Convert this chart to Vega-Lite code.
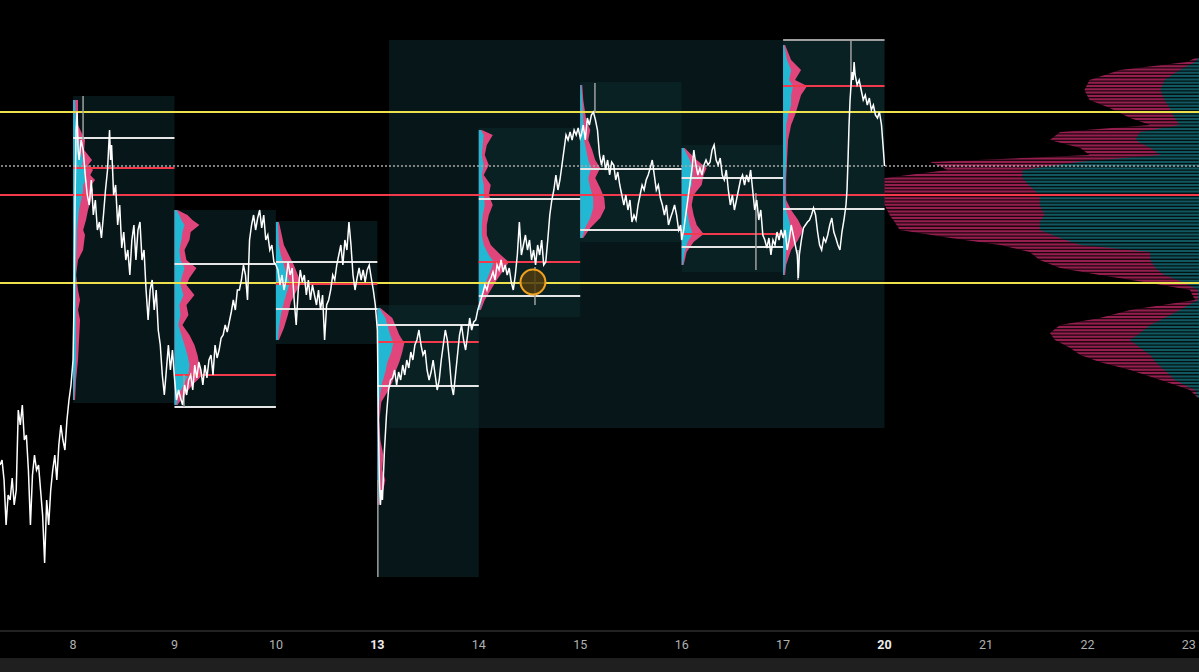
{
"$schema": "https://vega.github.io/schema/vega-lite/v6.json",
"width": 1199, "height": 631, "autosize": "none", "padding": {"left": 0, "top": 0, "right": 0, "bottom": 41},
"background": "#000000",
"config": {"view": {"stroke": null}},
"datasets": {
"price": [
{"t":-0.72,"p":5535},{"t":-0.70,"p":5540},{"t":-0.68,"p":5520},{"t":-0.66,"p":5475},{"t":-0.64,"p":5505},{"t":-0.62,"p":5500},{"t":-0.60,"p":5522},{"t":-0.58,"p":5495},{"t":-0.56,"p":5510},{"t":-0.54,"p":5590},{"t":-0.52,"p":5575},{"t":-0.50,"p":5595},{"t":-0.48,"p":5560},{"t":-0.46,"p":5565},{"t":-0.44,"p":5530},{"t":-0.42,"p":5475},{"t":-0.40,"p":5525},{"t":-0.38,"p":5545},{"t":-0.36,"p":5530},{"t":-0.34,"p":5535},{"t":-0.32,"p":5510},{"t":-0.30,"p":5485},{"t":-0.28,"p":5437},{"t":-0.26,"p":5500},{"t":-0.24,"p":5475},{"t":-0.22,"p":5510},{"t":-0.20,"p":5530},{"t":-0.18,"p":5545},{"t":-0.16,"p":5520},{"t":-0.14,"p":5555},{"t":-0.12,"p":5575},{"t":-0.10,"p":5560},{"t":-0.08,"p":5550},{"t":-0.06,"p":5580},{"t":-0.04,"p":5600},{"t":-0.02,"p":5615},
{"t":0.00,"p":5640},{"t":0.01,"p":5700},{"t":0.02,"p":5800},{"t":0.03,"p":5870},{"t":0.04,"p":5888},{"t":0.05,"p":5850},{"t":0.06,"p":5840},{"t":0.08,"p":5860},{"t":0.10,"p":5850},{"t":0.12,"p":5825},{"t":0.14,"p":5805},{"t":0.16,"p":5795},{"t":0.18,"p":5820},{"t":0.20,"p":5785},{"t":0.22,"p":5800},{"t":0.24,"p":5770},{"t":0.26,"p":5778},{"t":0.28,"p":5762},{"t":0.30,"p":5785},{"t":0.32,"p":5810},{"t":0.34,"p":5830},{"t":0.36,"p":5870},{"t":0.37,"p":5840},{"t":0.38,"p":5855},{"t":0.40,"p":5805},{"t":0.42,"p":5815},{"t":0.44,"p":5775},{"t":0.46,"p":5795},{"t":0.48,"p":5752},{"t":0.50,"p":5768},{"t":0.52,"p":5740},{"t":0.54,"p":5750},{"t":0.56,"p":5725},{"t":0.58,"p":5760},{"t":0.60,"p":5775},{"t":0.62,"p":5740},{"t":0.64,"p":5770},{"t":0.66,"p":5778},{"t":0.68,"p":5740},{"t":0.70,"p":5750},{"t":0.72,"p":5710},{"t":0.74,"p":5680},{"t":0.76,"p":5710},{"t":0.78,"p":5720},{"t":0.80,"p":5690},{"t":0.82,"p":5710},{"t":0.84,"p":5670},{"t":0.86,"p":5655},{"t":0.88,"p":5625},{"t":0.90,"p":5605},{"t":0.92,"p":5630},{"t":0.94,"p":5655},{"t":0.96,"p":5630},{"t":0.98,"p":5650},{"t":1.00,"p":5622},
{"t":1.02,"p":5600},{"t":1.04,"p":5610},{"t":1.06,"p":5602},{"t":1.08,"p":5595},{"t":1.10,"p":5615},{"t":1.12,"p":5605},{"t":1.14,"p":5620},{"t":1.16,"p":5625},{"t":1.18,"p":5610},{"t":1.20,"p":5635},{"t":1.22,"p":5622},{"t":1.24,"p":5638},{"t":1.26,"p":5630},{"t":1.28,"p":5615},{"t":1.30,"p":5635},{"t":1.32,"p":5622},{"t":1.34,"p":5640},{"t":1.36,"p":5645},{"t":1.38,"p":5625},{"t":1.40,"p":5655},{"t":1.42,"p":5642},{"t":1.44,"p":5650},{"t":1.46,"p":5662},{"t":1.48,"p":5665},{"t":1.50,"p":5675},{"t":1.52,"p":5668},{"t":1.54,"p":5678},{"t":1.56,"p":5688},{"t":1.58,"p":5700},{"t":1.60,"p":5690},{"t":1.62,"p":5710},{"t":1.64,"p":5710},{"t":1.66,"p":5720},{"t":1.68,"p":5735},{"t":1.70,"p":5725},{"t":1.72,"p":5700},{"t":1.74,"p":5760},{"t":1.76,"p":5775},{"t":1.78,"p":5785},{"t":1.80,"p":5770},{"t":1.82,"p":5782},{"t":1.84,"p":5790},{"t":1.86,"p":5772},{"t":1.88,"p":5785},{"t":1.90,"p":5760},{"t":1.92,"p":5765},{"t":1.94,"p":5750},{"t":1.96,"p":5755},{"t":1.98,"p":5738},{"t":2.00,"p":5735},
{"t":2.02,"p":5730},{"t":2.04,"p":5715},{"t":2.06,"p":5725},{"t":2.08,"p":5710},{"t":2.10,"p":5720},{"t":2.12,"p":5738},{"t":2.14,"p":5725},{"t":2.16,"p":5732},{"t":2.18,"p":5700},{"t":2.20,"p":5675},{"t":2.22,"p":5710},{"t":2.24,"p":5730},{"t":2.26,"p":5718},{"t":2.28,"p":5725},{"t":2.30,"p":5705},{"t":2.32,"p":5720},{"t":2.34,"p":5700},{"t":2.36,"p":5715},{"t":2.38,"p":5705},{"t":2.40,"p":5695},{"t":2.42,"p":5710},{"t":2.44,"p":5690},{"t":2.46,"p":5705},{"t":2.48,"p":5660},{"t":2.50,"p":5695},{"t":2.52,"p":5700},{"t":2.54,"p":5710},{"t":2.56,"p":5725},{"t":2.58,"p":5720},{"t":2.60,"p":5735},{"t":2.62,"p":5745},{"t":2.64,"p":5755},{"t":2.66,"p":5735},{"t":2.68,"p":5760},{"t":2.70,"p":5750},{"t":2.72,"p":5778},{"t":2.74,"p":5755},{"t":2.76,"p":5725},{"t":2.78,"p":5710},{"t":2.80,"p":5722},{"t":2.82,"p":5732},{"t":2.84,"p":5720},{"t":2.86,"p":5730},{"t":2.88,"p":5718},{"t":2.90,"p":5730},{"t":2.92,"p":5735},{"t":2.94,"p":5722},{"t":2.96,"p":5710},{"t":2.98,"p":5695},{"t":3.00,"p":5670},
{"t":3.01,"p":5580},{"t":3.02,"p":5520},{"t":3.03,"p":5495},{"t":3.04,"p":5510},{"t":3.05,"p":5500},{"t":3.07,"p":5550},{"t":3.09,"p":5585},{"t":3.11,"p":5610},{"t":3.13,"p":5620},{"t":3.15,"p":5622},{"t":3.17,"p":5630},{"t":3.19,"p":5615},{"t":3.21,"p":5628},{"t":3.23,"p":5620},{"t":3.25,"p":5635},{"t":3.27,"p":5625},{"t":3.29,"p":5640},{"t":3.31,"p":5632},{"t":3.33,"p":5648},{"t":3.35,"p":5640},{"t":3.37,"p":5655},{"t":3.39,"p":5660},{"t":3.41,"p":5670},{"t":3.43,"p":5655},{"t":3.45,"p":5645},{"t":3.47,"p":5650},{"t":3.49,"p":5630},{"t":3.51,"p":5620},{"t":3.53,"p":5628},{"t":3.55,"p":5640},{"t":3.57,"p":5625},{"t":3.59,"p":5610},{"t":3.61,"p":5620},{"t":3.63,"p":5640},{"t":3.65,"p":5655},{"t":3.67,"p":5670},{"t":3.69,"p":5660},{"t":3.71,"p":5640},{"t":3.73,"p":5615},{"t":3.75,"p":5605},{"t":3.77,"p":5625},{"t":3.79,"p":5645},{"t":3.81,"p":5665},{"t":3.83,"p":5675},{"t":3.85,"p":5660},{"t":3.87,"p":5650},{"t":3.89,"p":5665},{"t":3.91,"p":5682},{"t":3.93,"p":5670},{"t":3.95,"p":5678},{"t":3.97,"p":5680},{"t":3.99,"p":5690},
{"t":4.02,"p":5700},{"t":4.04,"p":5707},{"t":4.06,"p":5715},{"t":4.08,"p":5710},{"t":4.10,"p":5718},{"t":4.12,"p":5722},{"t":4.14,"p":5728},{"t":4.16,"p":5720},{"t":4.18,"p":5735},{"t":4.20,"p":5730},{"t":4.22,"p":5740},{"t":4.24,"p":5728},{"t":4.26,"p":5735},{"t":4.28,"p":5725},{"t":4.30,"p":5732},{"t":4.32,"p":5718},{"t":4.34,"p":5710},{"t":4.36,"p":5725},{"t":4.38,"p":5745},{"t":4.40,"p":5778},{"t":4.42,"p":5745},{"t":4.44,"p":5755},{"t":4.46,"p":5765},{"t":4.48,"p":5750},{"t":4.50,"p":5760},{"t":4.52,"p":5740},{"t":4.54,"p":5750},{"t":4.56,"p":5735},{"t":4.58,"p":5755},{"t":4.60,"p":5745},{"t":4.62,"p":5760},{"t":4.64,"p":5735},{"t":4.66,"p":5738},{"t":4.68,"p":5760},{"t":4.70,"p":5785},{"t":4.72,"p":5800},{"t":4.74,"p":5810},{"t":4.76,"p":5825},{"t":4.78,"p":5810},{"t":4.80,"p":5820},{"t":4.82,"p":5835},{"t":4.84,"p":5850},{"t":4.86,"p":5865},{"t":4.88,"p":5860},{"t":4.90,"p":5868},{"t":4.92,"p":5860},{"t":4.94,"p":5870},{"t":4.96,"p":5865},{"t":4.98,"p":5872},{"t":5.00,"p":5862},
{"t":5.01,"p":5865},{"t":5.03,"p":5875},{"t":5.05,"p":5860},{"t":5.07,"p":5882},{"t":5.09,"p":5875},{"t":5.11,"p":5885},{"t":5.13,"p":5888},{"t":5.15,"p":5880},{"t":5.17,"p":5870},{"t":5.19,"p":5845},{"t":5.21,"p":5835},{"t":5.23,"p":5845},{"t":5.25,"p":5830},{"t":5.27,"p":5840},{"t":5.29,"p":5825},{"t":5.31,"p":5838},{"t":5.33,"p":5835},{"t":5.35,"p":5820},{"t":5.37,"p":5828},{"t":5.39,"p":5815},{"t":5.41,"p":5805},{"t":5.43,"p":5795},{"t":5.45,"p":5805},{"t":5.47,"p":5790},{"t":5.49,"p":5800},{"t":5.51,"p":5778},{"t":5.53,"p":5785},{"t":5.55,"p":5780},{"t":5.57,"p":5795},{"t":5.59,"p":5805},{"t":5.61,"p":5815},{"t":5.63,"p":5810},{"t":5.65,"p":5820},{"t":5.67,"p":5825},{"t":5.69,"p":5832},{"t":5.71,"p":5840},{"t":5.73,"p":5825},{"t":5.75,"p":5810},{"t":5.77,"p":5815},{"t":5.79,"p":5802},{"t":5.81,"p":5795},{"t":5.83,"p":5785},{"t":5.85,"p":5795},{"t":5.87,"p":5775},{"t":5.89,"p":5782},{"t":5.91,"p":5788},{"t":5.93,"p":5795},{"t":5.95,"p":5785},{"t":5.97,"p":5770},{"t":5.99,"p":5775},{"t":6.00,"p":5760},
{"t":6.02,"p":5770},{"t":6.04,"p":5785},{"t":6.06,"p":5800},{"t":6.08,"p":5815},{"t":6.10,"p":5830},{"t":6.12,"p":5850},{"t":6.14,"p":5835},{"t":6.16,"p":5825},{"t":6.18,"p":5832},{"t":6.20,"p":5825},{"t":6.22,"p":5835},{"t":6.24,"p":5840},{"t":6.26,"p":5835},{"t":6.28,"p":5838},{"t":6.30,"p":5850},{"t":6.32,"p":5855},{"t":6.34,"p":5840},{"t":6.36,"p":5835},{"t":6.38,"p":5842},{"t":6.40,"p":5825},{"t":6.42,"p":5820},{"t":6.44,"p":5830},{"t":6.46,"p":5810},{"t":6.48,"p":5795},{"t":6.50,"p":5805},{"t":6.52,"p":5790},{"t":6.54,"p":5800},{"t":6.56,"p":5810},{"t":6.58,"p":5820},{"t":6.60,"p":5825},{"t":6.62,"p":5815},{"t":6.64,"p":5825},{"t":6.66,"p":5818},{"t":6.68,"p":5830},{"t":6.70,"p":5810},{"t":6.72,"p":5790},{"t":6.74,"p":5800},{"t":6.76,"p":5780},{"t":6.78,"p":5790},{"t":6.80,"p":5765},{"t":6.82,"p":5760},{"t":6.84,"p":5752},{"t":6.86,"p":5762},{"t":6.88,"p":5745},{"t":6.90,"p":5760},{"t":6.92,"p":5755},{"t":6.94,"p":5768},{"t":6.96,"p":5760},{"t":6.98,"p":5770},{"t":7.00,"p":5762},
{"t":7.02,"p":5770},{"t":7.04,"p":5750},{"t":7.06,"p":5760},{"t":7.08,"p":5775},{"t":7.10,"p":5765},{"t":7.12,"p":5755},{"t":7.14,"p":5745},{"t":7.15,"p":5722},{"t":7.16,"p":5745},{"t":7.18,"p":5760},{"t":7.20,"p":5772},{"t":7.22,"p":5775},{"t":7.24,"p":5778},{"t":7.26,"p":5780},{"t":7.28,"p":5785},{"t":7.30,"p":5792},{"t":7.32,"p":5785},{"t":7.34,"p":5768},{"t":7.36,"p":5755},{"t":7.38,"p":5750},{"t":7.40,"p":5762},{"t":7.42,"p":5758},{"t":7.44,"p":5765},{"t":7.46,"p":5775},{"t":7.48,"p":5782},{"t":7.50,"p":5768},{"t":7.52,"p":5762},{"t":7.54,"p":5755},{"t":7.56,"p":5750},{"t":7.58,"p":5768},{"t":7.60,"p":5780},{"t":7.62,"p":5795},{"t":7.63,"p":5810},{"t":7.64,"p":5840},{"t":7.65,"p":5875},{"t":7.66,"p":5900},{"t":7.67,"p":5915},{"t":7.68,"p":5928},{"t":7.69,"p":5920},{"t":7.70,"p":5938},{"t":7.71,"p":5925},{"t":7.73,"p":5915},{"t":7.75,"p":5920},{"t":7.77,"p":5910},{"t":7.79,"p":5900},{"t":7.81,"p":5905},{"t":7.83,"p":5895},{"t":7.85,"p":5902},{"t":7.87,"p":5890},{"t":7.89,"p":5895},{"t":7.91,"p":5885},{"t":7.93,"p":5882},{"t":7.95,"p":5888},{"t":7.97,"p":5875},{"t":7.985,"p":5855},{"t":8.00,"p":5834}
],
"sessions": [
{"s":0,"e":1,"top":5904,"bot":5597},{"s":1,"e":2,"top":5790,"bot":5593},{"s":2,"e":3,"top":5779,"bot":5656},{"s":3,"e":4,"top":5695,"bot":5423},{"s":4,"e":5,"top":5872,"bot":5683},{"s":5,"e":6,"top":5918,"bot":5758},{"s":6,"e":7,"top":5855,"bot":5728},{"s":7,"e":8,"top":5960,"bot":5720}
],
"week": [{"s":3.115,"e":8.0,"top":5960,"bot":5572}],
"profiles": [
{"s":0,"p":5900,"tp":0.049,"tc":0.020},{"s":0,"p":5875,"tp":0.049,"tc":0.030},{"s":0,"p":5860,"tp":0.118,"tc":0.059},{"s":0,"p":5850,"tp":0.110,"tc":0.069},{"s":0,"p":5840,"tp":0.187,"tc":0.099},{"s":0,"p":5835,"tp":0.150,"tc":0.089},{"s":0,"p":5830,"tp":0.197,"tc":0.128},{"s":0,"p":5825,"tp":0.170,"tc":0.110},{"s":0,"p":5820,"tp":0.217,"tc":0.128},{"s":0,"p":5815,"tp":0.180,"tc":0.100},{"s":0,"p":5810,"tp":0.197,"tc":0.099},{"s":0,"p":5800,"tp":0.177,"tc":0.079},{"s":0,"p":5790,"tp":0.148,"tc":0.059},{"s":0,"p":5780,"tp":0.128,"tc":0.049},{"s":0,"p":5770,"tp":0.100,"tc":0.040},{"s":0,"p":5765,"tp":0.118,"tc":0.040},{"s":0,"p":5750,"tp":0.099,"tc":0.035},{"s":0,"p":5740,"tp":0.049,"tc":0.030},{"s":0,"p":5725,"tp":0.030,"tc":0.030},{"s":0,"p":5710,"tp":0.049,"tc":0.030},{"s":0,"p":5700,"tp":0.069,"tc":0.030},{"s":0,"p":5690,"tp":0.050,"tc":0.030},{"s":0,"p":5680,"tp":0.069,"tc":0.030},{"s":0,"p":5660,"tp":0.059,"tc":0.030},{"s":0,"p":5640,"tp":0.049,"tc":0.030},{"s":0,"p":5620,"tp":0.030,"tc":0.020},{"s":0,"p":5600,"tp":0.020,"tc":0.010},
{"s":1,"p":5790,"tp":1.030,"tc":1.020},{"s":1,"p":5785,"tp":1.128,"tc":1.049},{"s":1,"p":5780,"tp":1.177,"tc":1.069},{"s":1,"p":5775,"tp":1.246,"tc":1.099},{"s":1,"p":5768,"tp":1.160,"tc":1.079},{"s":1,"p":5760,"tp":1.148,"tc":1.069},{"s":1,"p":5750,"tp":1.099,"tc":1.049},{"s":1,"p":5740,"tp":1.118,"tc":1.059},{"s":1,"p":5732,"tp":1.217,"tc":1.099},{"s":1,"p":5722,"tp":1.148,"tc":1.069},{"s":1,"p":5715,"tp":1.118,"tc":1.059},{"s":1,"p":5705,"tp":1.197,"tc":1.089},{"s":1,"p":5695,"tp":1.118,"tc":1.049},{"s":1,"p":5685,"tp":1.138,"tc":1.059},{"s":1,"p":5675,"tp":1.079,"tc":1.039},{"s":1,"p":5665,"tp":1.148,"tc":1.069},{"s":1,"p":5655,"tp":1.197,"tc":1.099},{"s":1,"p":5645,"tp":1.227,"tc":1.128},{"s":1,"p":5635,"tp":1.246,"tc":1.148},{"s":1,"p":5625,"tp":1.276,"tc":1.138},{"s":1,"p":5615,"tp":1.177,"tc":1.089},{"s":1,"p":5605,"tp":1.099,"tc":1.039},{"s":1,"p":5595,"tp":1.030,"tc":1.020},
{"s":2,"p":5778,"tp":2.030,"tc":2.020},{"s":2,"p":5755,"tp":2.079,"tc":2.030},{"s":2,"p":5745,"tp":2.128,"tc":2.049},{"s":2,"p":5735,"tp":2.177,"tc":2.079},{"s":2,"p":5725,"tp":2.217,"tc":2.108},{"s":2,"p":5717,"tp":2.246,"tc":2.138},{"s":2,"p":5708,"tp":2.197,"tc":2.108},{"s":2,"p":5698,"tp":2.148,"tc":2.079},{"s":2,"p":5685,"tp":2.118,"tc":2.049},{"s":2,"p":5672,"tp":2.079,"tc":2.030},{"s":2,"p":5660,"tp":2.030,"tc":2.020},
{"s":3,"p":5692,"tp":3.030,"tc":3.020},{"s":3,"p":5682,"tp":3.148,"tc":3.079},{"s":3,"p":5675,"tp":3.177,"tc":3.099},{"s":3,"p":5665,"tp":3.217,"tc":3.128},{"s":3,"p":5657,"tp":3.266,"tc":3.158},{"s":3,"p":5648,"tp":3.246,"tc":3.138},{"s":3,"p":5638,"tp":3.217,"tc":3.099},{"s":3,"p":5628,"tp":3.177,"tc":3.079},{"s":3,"p":5618,"tp":3.148,"tc":3.049},{"s":3,"p":5608,"tp":3.099,"tc":3.030},{"s":3,"p":5598,"tp":3.039,"tc":3.020},{"s":3,"p":5580,"tp":3.020,"tc":3.010},{"s":3,"p":5560,"tp":3.030,"tc":3.020},{"s":3,"p":5545,"tp":3.059,"tc":3.020},{"s":3,"p":5530,"tp":3.049,"tc":3.020},{"s":3,"p":5520,"tp":3.079,"tc":3.030},{"s":3,"p":5505,"tp":3.049,"tc":3.020},{"s":3,"p":5495,"tp":3.020,"tc":3.010},
{"s":4,"p":5870,"tp":4.030,"tc":4.020},{"s":4,"p":5865,"tp":4.138,"tc":4.049},{"s":4,"p":5855,"tp":4.079,"tc":4.039},{"s":4,"p":5845,"tp":4.059,"tc":4.030},{"s":4,"p":5835,"tp":4.099,"tc":4.049},{"s":4,"p":5825,"tp":4.049,"tc":4.030},{"s":4,"p":5815,"tp":4.118,"tc":4.049},{"s":4,"p":5805,"tp":4.099,"tc":4.049},{"s":4,"p":5795,"tp":4.138,"tc":4.059},{"s":4,"p":5785,"tp":4.099,"tc":4.039},{"s":4,"p":5775,"tp":4.079,"tc":4.030},{"s":4,"p":5765,"tp":4.079,"tc":4.030},{"s":4,"p":5755,"tp":4.118,"tc":4.049},{"s":4,"p":5745,"tp":4.217,"tc":4.099},{"s":4,"p":5738,"tp":4.296,"tc":4.148},{"s":4,"p":5730,"tp":4.246,"tc":4.118},{"s":4,"p":5720,"tp":4.177,"tc":4.079},{"s":4,"p":5710,"tp":4.118,"tc":4.049},{"s":4,"p":5700,"tp":4.059,"tc":4.030},{"s":4,"p":5690,"tp":4.020,"tc":4.010},
{"s":5,"p":5915,"tp":5.020,"tc":5.010},{"s":5,"p":5900,"tp":5.030,"tc":5.020},{"s":5,"p":5880,"tp":5.059,"tc":5.030},{"s":5,"p":5870,"tp":5.099,"tc":5.039},{"s":5,"p":5860,"tp":5.079,"tc":5.039},{"s":5,"p":5850,"tp":5.118,"tc":5.059},{"s":5,"p":5840,"tp":5.148,"tc":5.079},{"s":5,"p":5832,"tp":5.197,"tc":5.108},{"s":5,"p":5822,"tp":5.148,"tc":5.079},{"s":5,"p":5812,"tp":5.197,"tc":5.099},{"s":5,"p":5802,"tp":5.237,"tc":5.128},{"s":5,"p":5792,"tp":5.246,"tc":5.128},{"s":5,"p":5782,"tp":5.197,"tc":5.099},{"s":5,"p":5772,"tp":5.099,"tc":5.049},{"s":5,"p":5762,"tp":5.030,"tc":5.020},
{"s":6,"p":5852,"tp":6.030,"tc":6.020},{"s":6,"p":5840,"tp":6.148,"tc":6.079},{"s":6,"p":5832,"tp":6.246,"tc":6.108},{"s":6,"p":5825,"tp":6.217,"tc":6.108},{"s":6,"p":5815,"tp":6.197,"tc":6.099},{"s":6,"p":5805,"tp":6.118,"tc":6.059},{"s":6,"p":5795,"tp":6.099,"tc":6.049},{"s":6,"p":5785,"tp":6.118,"tc":6.059},{"s":6,"p":5775,"tp":6.148,"tc":6.079},{"s":6,"p":5766,"tp":6.217,"tc":6.108},{"s":6,"p":5758,"tp":6.118,"tc":6.059},{"s":6,"p":5748,"tp":6.049,"tc":6.030},{"s":6,"p":5735,"tp":6.020,"tc":6.010},
{"s":7,"p":5955,"tp":7.020,"tc":7.010},{"s":7,"p":5940,"tp":7.079,"tc":7.039},{"s":7,"p":5930,"tp":7.177,"tc":7.079},{"s":7,"p":5920,"tp":7.118,"tc":7.059},{"s":7,"p":5914,"tp":7.237,"tc":7.099},{"s":7,"p":5905,"tp":7.177,"tc":7.079},{"s":7,"p":5895,"tp":7.148,"tc":7.079},{"s":7,"p":5885,"tp":7.118,"tc":7.049},{"s":7,"p":5875,"tp":7.079,"tc":7.030},{"s":7,"p":5860,"tp":7.049,"tc":7.030},{"s":7,"p":5840,"tp":7.039,"tc":7.030},{"s":7,"p":5820,"tp":7.030,"tc":7.020},{"s":7,"p":5800,"tp":7.030,"tc":7.020},{"s":7,"p":5790,"tp":7.079,"tc":7.030},{"s":7,"p":5780,"tp":7.148,"tc":7.059},{"s":7,"p":5770,"tp":7.197,"tc":7.079},{"s":7,"p":5760,"tp":7.148,"tc":7.049},{"s":7,"p":5750,"tp":7.079,"tc":7.030},{"s":7,"p":5735,"tp":7.030,"tc":7.020},{"s":7,"p":5725,"tp":7.020,"tc":7.010}
],
"composite": [
{"p":5942,"tp":11.06,"tc":11.09},{"p":5938,"tp":10.98,"tc":11.06},{"p":5930,"tp":10.32,"tc":10.91},{"p":5920,"tp":10.02,"tc":10.76},{"p":5910,"tp":9.97,"tc":10.72},{"p":5900,"tp":10.02,"tc":10.76},{"p":5892,"tp":10.22,"tc":10.81},{"p":5882,"tp":10.42,"tc":10.86},{"p":5875,"tp":10.62,"tc":10.91},{"p":5868,"tp":9.73,"tc":10.52},{"p":5860,"tp":9.63,"tc":10.47},{"p":5852,"tp":9.93,"tc":10.62},{"p":5845,"tp":10.02,"tc":10.72},{"p":5838,"tp":8.45,"tc":9.90},{"p":5830,"tp":8.62,"tc":9.36},{"p":5822,"tp":8.00,"tc":9.36},{"p":5814,"tp":8.00,"tc":9.43},{"p":5805,"tp":8.00,"tc":9.53},{"p":5795,"tp":8.00,"tc":9.53},{"p":5785,"tp":8.05,"tc":9.58},{"p":5778,"tp":8.10,"tc":9.53},{"p":5770,"tp":8.15,"tc":9.53},{"p":5762,"tp":8.65,"tc":9.73},{"p":5755,"tp":9.14,"tc":9.93},{"p":5748,"tp":9.43,"tc":10.62},{"p":5740,"tp":9.53,"tc":10.62},{"p":5732,"tp":9.73,"tc":10.67},{"p":5725,"tp":10.12,"tc":10.76},{"p":5717,"tp":10.62,"tc":10.96},{"p":5710,"tp":11.01,"tc":11.09},{"p":5700,"tp":11.06,"tc":11.09},{"p":5690,"tp":10.42,"tc":10.91},{"p":5682,"tp":10.12,"tc":10.76},{"p":5675,"tp":9.73,"tc":10.62},{"p":5667,"tp":9.63,"tc":10.52},{"p":5660,"tp":9.68,"tc":10.42},{"p":5652,"tp":9.83,"tc":10.52},{"p":5645,"tp":9.93,"tc":10.62},{"p":5638,"tp":10.12,"tc":10.67},{"p":5630,"tp":10.42,"tc":10.76},{"p":5620,"tp":10.72,"tc":10.86},{"p":5610,"tp":11.01,"tc":11.06},{"p":5602,"tp":11.09,"tc":11.09}
],
"stripes": [{"t":9.55,"p1":5946,"p2":5598}],
"va": [
{"s":0,"e":1,"p":5862},{"s":1,"e":2,"p":5736},{"s":1,"e":2,"p":5593},{"s":2,"e":3,"p":5738},{"s":2,"e":3,"p":5691},{"s":3,"e":4,"p":5675},{"s":3,"e":4,"p":5614},{"s":4,"e":5,"p":5801},{"s":4,"e":5,"p":5704},{"s":5,"e":6,"p":5831},{"s":5,"e":6,"p":5770},{"s":6,"e":7,"p":5822},{"s":6,"e":7,"p":5753},{"s":7,"e":8,"p":5791}
],
"poc": [
{"s":0,"e":1,"p":5832},{"s":1,"e":2,"p":5625},{"s":2,"e":3,"p":5716},{"s":3,"e":4,"p":5658},{"s":4,"e":5,"p":5738},{"s":6,"e":7,"p":5766},{"s":7,"e":8,"p":5914}
],
"hi": [{"s":7,"e":8,"p":5960}],
"wicks": [
{"t":0.099,"p1":5904,"p2":5860},{"t":1.094,"p1":5625,"p2":5593},{"t":3.005,"p1":5520,"p2":5423},{"t":4.554,"p1":5733,"p2":5695},{"t":5.145,"p1":5917,"p2":5887},{"t":6.732,"p1":5807,"p2":5730},{"t":7.146,"p1":5750,"p2":5720},{"t":7.669,"p1":5960,"p2":5915}
],
"levels": [{"p":5888},{"p":5717}],
"red": [{"p":5805}],
"last": [{"p":5834}],
"marker": [{"t":4.534,"p":5718}],
"panel": [{"t1":-0.72,"t2":11.1,"p1":5328,"p2":5342,"base":5369}],
"dayLabels": [
{"t":0,"label":"8","p":5355},{"t":1,"label":"9","p":5355},{"t":2,"label":"10","p":5355},{"t":4,"label":"14","p":5355},{"t":5,"label":"15","p":5355},{"t":6,"label":"16","p":5355},{"t":7,"label":"17","p":5355},{"t":9,"label":"21","p":5355},{"t":10,"label":"22","p":5355},{"t":11,"label":"23","p":5355}
],
"weekLabels": [
{"t":3,"label":"13","p":5355},{"t":8,"label":"20","p":5355}
]
},
"layer": [
{"data": {"name": "panel"},
 "mark": {"type": "rect", "color": "#1f1f1f", "clip": false},
 "encoding": {
  "x": {"field": "t1", "type": "quantitative", "scale": {"domain": [-0.72, 11.1], "nice": false, "zero": false}, "axis": null},
  "x2": {"field": "t2"},
  "y": {"field": "p1", "type": "quantitative", "scale": {"domain": [5369, 6000], "nice": false, "zero": false}, "axis": null},
  "y2": {"field": "p2"}}},
{"data": {"name": "panel"},
 "mark": {"type": "rule", "color": "#2e2e2e", "strokeWidth": 1.5},
 "encoding": {"y": {"field": "base", "type": "quantitative", "axis": null}}},
{"data": {"name": "dayLabels"},
 "mark": {"type": "text", "color": "#b0b0b0", "font": "Roboto", "fontSize": 12.5, "baseline": "middle", "align": "center"},
 "encoding": {
  "x": {"field": "t", "type": "quantitative", "axis": null},
  "y": {"field": "p", "type": "quantitative", "axis": null},
  "text": {"field": "label"}}},
{"data": {"name": "weekLabels"},
 "mark": {"type": "text", "color": "#eeeeee", "font": "Roboto", "fontSize": 12.5, "fontWeight": "bold", "baseline": "middle", "align": "center"},
 "encoding": {
  "x": {"field": "t", "type": "quantitative", "axis": null},
  "y": {"field": "p", "type": "quantitative", "axis": null},
  "text": {"field": "label"}}},
{"data": {"name": "week"},
 "mark": {"type": "rect", "color": "#0e2b2f", "opacity": 0.5},
 "encoding": {
  "x": {"field": "s", "type": "quantitative", "axis": null},
  "x2": {"field": "e"},
  "y": {"field": "top", "type": "quantitative", "axis": null},
  "y2": {"field": "bot"}}},
{"data": {"name": "sessions"},
 "mark": {"type": "rect", "color": "#0e2b2f", "opacity": 0.5},
 "encoding": {
  "x": {"field": "s", "type": "quantitative", "axis": null},
  "x2": {"field": "e"},
  "y": {"field": "top", "type": "quantitative", "axis": null},
  "y2": {"field": "bot"}}},
{"data": {"name": "profiles"},
 "mark": {"type": "area", "orient": "horizontal", "color": "#e0467c"},
 "encoding": {
  "y": {"field": "p", "type": "quantitative", "axis": null},
  "x": {"field": "tp", "type": "quantitative", "stack": null, "axis": null},
  "x2": {"field": "s"},
  "detail": {"field": "s"}}},
{"data": {"name": "profiles"},
 "mark": {"type": "area", "orient": "horizontal", "color": "#22b8d3"},
 "encoding": {
  "y": {"field": "p", "type": "quantitative", "axis": null},
  "x": {"field": "tc", "type": "quantitative", "stack": null, "axis": null},
  "x2": {"field": "s"},
  "detail": {"field": "s"}}},
{"data": {"name": "composite"},
 "mark": {"type": "area", "orient": "horizontal", "color": "#941e4e", "clip": true},
 "encoding": {
  "y": {"field": "p", "type": "quantitative", "axis": null},
  "x": {"field": "tp", "type": "quantitative", "stack": null, "axis": null},
  "x2": {"datum": 11.1}}},
{"data": {"name": "composite"},
 "mark": {"type": "area", "orient": "horizontal", "color": "#10575f", "clip": true},
 "encoding": {
  "y": {"field": "p", "type": "quantitative", "axis": null},
  "x": {"field": "tc", "type": "quantitative", "stack": null, "axis": null},
  "x2": {"datum": 11.1}}},
{"data": {"name": "stripes"},
 "mark": {"type": "rule", "color": "#000000", "strokeWidth": 314, "strokeCap": "butt", "strokeDash": [1.3, 2.0], "opacity": 0.8},
 "encoding": {
  "x": {"field": "t", "type": "quantitative", "axis": null},
  "y": {"field": "p1", "type": "quantitative", "axis": null},
  "y2": {"field": "p2"}}},
{"data": {"name": "levels"},
 "mark": {"type": "rule", "color": "#ece04c", "strokeWidth": 2},
 "encoding": {"y": {"field": "p", "type": "quantitative", "axis": null}}},
{"data": {"name": "red"},
 "mark": {"type": "rule", "color": "#f23a4c", "strokeWidth": 2},
 "encoding": {"y": {"field": "p", "type": "quantitative", "axis": null}}},
{"data": {"name": "last"},
 "mark": {"type": "rule", "color": "#a8a8a8", "strokeWidth": 1.5, "strokeDash": [2, 2]},
 "encoding": {"y": {"field": "p", "type": "quantitative", "axis": null}}},
{"data": {"name": "va"},
 "mark": {"type": "rule", "color": "#e6e6e6", "strokeWidth": 2},
 "encoding": {
  "x": {"field": "s", "type": "quantitative", "axis": null},
  "x2": {"field": "e"},
  "y": {"field": "p", "type": "quantitative", "axis": null}}},
{"data": {"name": "poc"},
 "mark": {"type": "rule", "color": "#f23a4c", "strokeWidth": 2},
 "encoding": {
  "x": {"field": "s", "type": "quantitative", "axis": null},
  "x2": {"field": "e"},
  "y": {"field": "p", "type": "quantitative", "axis": null}}},
{"data": {"name": "hi"},
 "mark": {"type": "rule", "color": "#9e9e9e", "strokeWidth": 2},
 "encoding": {
  "x": {"field": "s", "type": "quantitative", "axis": null},
  "x2": {"field": "e"},
  "y": {"field": "p", "type": "quantitative", "axis": null}}},
{"data": {"name": "wicks"},
 "mark": {"type": "rule", "color": "#a0a0a0", "strokeWidth": 1.5},
 "encoding": {
  "x": {"field": "t", "type": "quantitative", "axis": null},
  "y": {"field": "p1", "type": "quantitative", "axis": null},
  "y2": {"field": "p2"}}},
{"data": {"name": "price"},
 "mark": {"type": "line", "color": "#ffffff", "strokeWidth": 1.5},
 "encoding": {
  "x": {"field": "t", "type": "quantitative", "axis": null},
  "y": {"field": "p", "type": "quantitative", "axis": null}}},
{"data": {"name": "marker"},
 "mark": {"type": "point", "shape": "circle", "filled": true, "fill": "#4d3a0e", "fillOpacity": 0.85, "stroke": "#f2a11f", "strokeWidth": 2, "size": 620},
 "encoding": {
  "x": {"field": "t", "type": "quantitative", "axis": null},
  "y": {"field": "p", "type": "quantitative", "axis": null}}}
]
}
